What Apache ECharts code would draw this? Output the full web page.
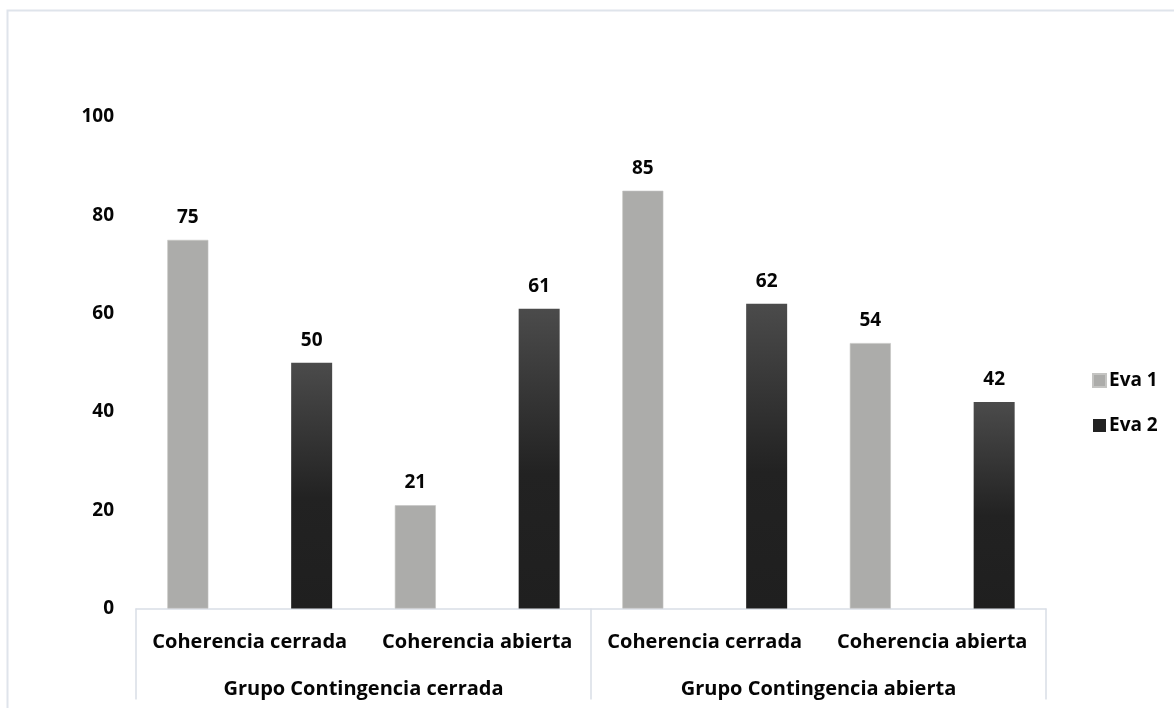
<!DOCTYPE html>
<html>
<head>
<meta charset="utf-8">
<script src="https://cdn.jsdelivr.net/npm/echarts@6/dist/echarts.min.js"></script>
<style>
  html, body { margin: 0; padding: 0; background: #fff; }
  #chart { width: 1174px; height: 708px; }
</style>
</head>
<body>
<div id="chart"></div>
<script>
// Sub-categories (first axis level) and groups (second axis level)
const subCategories = ['Coherencia cerrada', 'Coherencia abierta', 'Coherencia cerrada', 'Coherencia abierta'];
const groups = ['Grupo Contingencia cerrada', 'Grupo Contingencia abierta'];
const seriesNames = ['Eva 1', 'Eva 2'];
const eva1 = [75, 21, 85, 54];
const eva2 = [50, 61, 62, 42];
const yTicks = { min: 0, max: 100, interval: 20 };

const FONT = '"Open Sans", sans-serif';
const TEXT = '#050505';
const LINE = '#d9dee6';

const chart = echarts.init(document.getElementById('chart'), null, { renderer: 'canvas' });

const labelStyle = {
  show: true,
  position: 'top',
  distance: 13,
  color: TEXT,
  fontFamily: FONT,
  fontWeight: 'bold',
  fontSize: 19
};

chart.setOption({
  animation: false,
  backgroundColor: '#ffffff',
  graphic: [{
    type: 'rect',
    shape: { x: 7.5, y: 10.5, width: 1300, height: 800 },
    style: { fill: 'none', stroke: '#dfe4eb', lineWidth: 2 },
    silent: true,
    z: -1
  }],
  grid: { left: 136, right: 128, top: 117, bottom: 99.5, containLabel: false },
  legend: {
    orient: 'vertical',
    left: 1087,
    top: 366,
    itemWidth: 13,
    itemHeight: 13,
    itemGap: 26,
    icon: 'rect',
    textStyle: { color: TEXT, fontFamily: FONT, fontWeight: 'bold', fontSize: 19, padding: [0, 0, 0, -2] },
    data: [
      { name: 'Eva 1', itemStyle: { color: '#acacaa' } },
      { name: 'Eva 2', itemStyle: { color: '#222222' } }
    ]
  },
  xAxis: [
    {
      type: 'category',
      data: subCategories,
      position: 'bottom',
      axisLine: { show: true, lineStyle: { color: LINE, width: 1.5 } },
      axisTick: { show: false },
      axisLabel: { color: TEXT, fontFamily: FONT, fontWeight: 'bold', fontSize: 20, margin: 24, interval: 0 }
    },
    {
      type: 'category',
      data: groups,
      position: 'bottom',
      axisLine: { show: false },
      axisTick: { show: true, length: 91, lineStyle: { color: LINE, width: 1.5 } },
      axisLabel: { color: TEXT, fontFamily: FONT, fontWeight: 'bold', fontSize: 20, margin: 71, interval: 0 }
    }
  ],
  yAxis: {
    type: 'value',
    min: yTicks.min,
    max: yTicks.max,
    interval: yTicks.interval,
    axisLine: { show: false },
    axisTick: { show: false },
    splitLine: { show: false },
    axisLabel: { color: TEXT, fontFamily: FONT, fontWeight: 'bold', fontSize: 19, margin: 22 }
  },
  series: [
    {
      name: seriesNames[0],
      type: 'bar',
      xAxisIndex: 0,
      data: eva1,
      barWidth: 41,
      barGap: '202%',
      itemStyle: { color: '#acacaa', borderColor: '#c4c4c2', borderWidth: 0.6 },
      label: labelStyle
    },
    {
      name: seriesNames[1],
      type: 'bar',
      xAxisIndex: 0,
      data: eva2,
      barWidth: 41,
      itemStyle: {
        color: new echarts.graphic.LinearGradient(0, 0, 0, 1, [
          { offset: 0, color: '#4b4b4b' },
          { offset: 0.55, color: '#222222' },
          { offset: 1, color: '#1f1f1f' }
        ])
      },
      label: labelStyle
    }
  ]
});
</script>
</body>
</html>
